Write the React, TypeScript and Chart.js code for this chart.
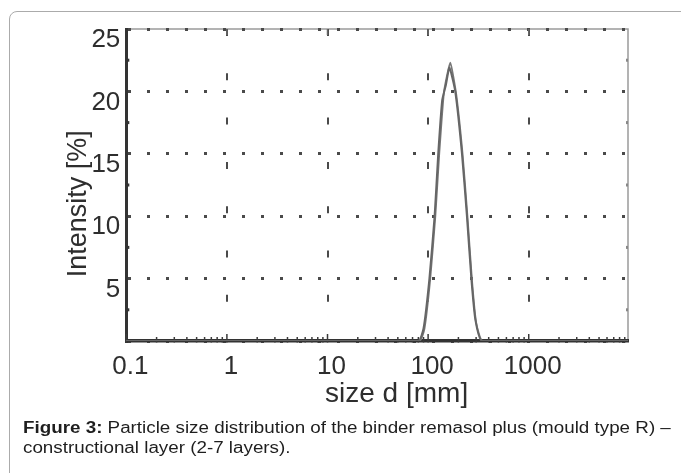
import React, { useEffect, useRef } from "react";
import { Chart, registerables } from "chart.js";

Chart.register(...registerables);

// ---- data ----
const xTickValues = [0.1, 1, 10, 100, 1000];
const xTickLabels = ["0.1", "1", "10", "100", "1000"];
const yTickValues = [0, 5, 10, 15, 20, 25];
const yMinorMarks = [2.5, 7.5, 12.5, 17.5, 22.5];

// outer edge of the (doubled) distribution curve
const sizeA = [0.1, 80, 90, 103, 116, 126, 138, 150, 163, 186, 217, 243, 269, 295, 344, 9700];
const intensityA = [0, 0, 1.0, 5, 10, 15, 19.3, 20.5, 21.9, 20, 15, 10, 5, 1.7, 0, 0];
// second trace of the doubled line
const sizeB = [0.1, 82, 92, 105, 118, 129, 144, 166, 190, 220, 246, 272, 300, 348, 9700];
const intensityB = [0, 0, 1.0, 5, 10, 15, 20, 22.3, 19.8, 15, 10, 5, 1.5, 0, 0];

const X_MIN = 0.1;
const X_MAX = 9700;
const Y_MIN = 0;
const Y_MAX = 25;

const FONT = "'Liberation Sans', Arial, Helvetica, sans-serif";

const decorPlugin = {
  id: "decor",
  beforeDraw(chart: any) {
    const { ctx, chartArea } = chart;
    ctx.save();
    ctx.strokeStyle = "#9a9a9a";
    ctx.lineWidth = 1.5;
    ctx.beginPath();
    ctx.moveTo(chartArea.left, chartArea.top);
    ctx.lineTo(chartArea.right, chartArea.top);
    ctx.lineTo(chartArea.right, chartArea.bottom);
    ctx.stroke();
    ctx.restore();
  },
  beforeDatasetsDraw(chart: any) {
    const { ctx, chartArea, scales } = chart;
    const xs = scales.x;
    const ys = scales.y;
    ctx.save();
    ctx.strokeStyle = "#3a3a3a";
    ctx.lineWidth = 1.5;
    // bottom log ticks (inside)
    for (const d of xTickValues) {
      for (let k = 1; k <= 9; k++) {
        const v = d * k;
        if (v < X_MIN || v > X_MAX) continue;
        const px = xs.getPixelForValue(v);
        const len = k === 1 ? 7 : 4;
        ctx.beginPath();
        ctx.moveTo(px, chartArea.bottom + 1.5);
        ctx.lineTo(px, chartArea.bottom - len);
        ctx.stroke();
      }
    }
    // top decade ticks
    ctx.strokeStyle = "#666";
    for (const d of xTickValues) {
      if (d <= X_MIN) continue;
      const px = xs.getPixelForValue(d);
      ctx.beginPath();
      ctx.moveTo(px, chartArea.top);
      ctx.lineTo(px, chartArea.top + 6);
      ctx.stroke();
    }
    // left axis small marks
    ctx.fillStyle = "#333";
    for (const v of yMinorMarks) {
      const py = ys.getPixelForValue(v);
      ctx.fillRect(chartArea.left, py - 1.5, 3, 3);
    }
    // right axis small marks
    ctx.fillStyle = "#888";
    for (const v of yMinorMarks) {
      const py = ys.getPixelForValue(v);
      ctx.fillRect(chartArea.right - 2, py - 1.5, 2, 3);
    }
    ctx.restore();
  },
};

export default function App() {
  const canvasRef = useRef<HTMLCanvasElement | null>(null);

  useEffect(() => {
    const canvas = canvasRef.current;
    if (!canvas) return;
    const chart = new Chart(canvas, {
      type: "line",
      data: {
        datasets: [
          {
            label: "trace A",
            data: sizeA.map((x, i) => ({ x, y: intensityA[i] })),
            borderColor: "#666",
            borderWidth: 2,
            pointRadius: 0,
            tension: 0.15,
            fill: false,
          },
          {
            label: "trace B",
            data: sizeB.map((x, i) => ({ x, y: intensityB[i] })),
            borderColor: "#777",
            borderWidth: 1.8,
            pointRadius: 0,
            tension: 0.15,
            fill: false,
          },
        ],
      },
      options: {
        animation: false,
        responsive: false,
        devicePixelRatio: 1,
        layout: { padding: { left: 0, right: 53, top: 29, bottom: 0 } },
        plugins: {
          legend: { display: false },
          tooltip: { enabled: false },
        },
        scales: {
          x: {
            type: "logarithmic",
            position: "bottom",
            min: X_MIN,
            max: X_MAX,
            afterBuildTicks: (s: any) => {
              s.ticks = xTickValues.map((v) => ({ value: v }));
            },
            afterFit: (s: any) => {
              s.height = 79;
            },
            ticks: {
              autoSkip: false,
              maxRotation: 0,
              padding: 10,
              labelOffset: 4,
              color: "#2e2e2e",
              font: { family: FONT, size: 26 },
              callback: (_v: any, i: number) => xTickLabels[i],
            },
            grid: {
              drawTicks: false,
              lineWidth: 2,
              color: (c: any) =>
                c.tick && c.tick.value > X_MIN ? "#4a4a4a" : "rgba(0,0,0,0)",
            },
            border: { display: true, color: "#333", width: 3.5, dash: [7, 37.3] },
            title: {
              display: true,
              text: "     size d [mm]",
              color: "#2e2e2e",
              font: { family: FONT, size: 28 },
              padding: { top: 0, bottom: 9 },
            },
          },
          y: {
            type: "linear",
            position: "left",
            min: Y_MIN,
            max: Y_MAX,
            afterBuildTicks: (s: any) => {
              s.ticks = yTickValues.map((v) => ({ value: v }));
            },
            afterFit: (s: any) => {
              s.width = 126.3;
            },
            ticks: {
              padding: 6,
              labelOffset: 11,
              color: "#2e2e2e",
              font: { family: FONT, size: 26 },
              callback: (v: any) => (v === 0 ? "" : String(v)),
            },
            grid: {
              drawTicks: false,
              lineWidth: 3,
              color: "#4a4a4a",
            },
            border: { display: true, color: "#333", width: 3, dash: [3, 16] },
            title: {
              display: true,
              text: "Intensity [%]     ",
              color: "#2e2e2e",
              font: { family: FONT, size: 27 },
              padding: { top: 62, bottom: 0 },
            },
          },
        },
      },
      plugins: [decorPlugin],
    } as any);
    return () => chart.destroy();
  }, []);

  return (
    <div style={{ position: "absolute", left: 0, top: 0, width: 681, height: 473, overflow: "hidden", background: "#fff" }}>
      <div
        style={{
          position: "absolute",
          left: 9,
          top: 11,
          width: 720,
          height: 520,
          border: "1px solid #ababab",
          borderTopLeftRadius: 8,
          boxSizing: "border-box",
        }}
      />
      <canvas
        ref={canvasRef}
        width={681}
        height={420}
        style={{ position: "absolute", left: 0, top: 0, width: 681, height: 420, display: "block" }}
      />
      <div
        style={{
          position: "absolute",
          left: 23,
          top: 418,
          fontFamily: FONT,
          fontSize: 16,
          lineHeight: "20px",
          color: "#1e1e1e",
          whiteSpace: "nowrap",
          transform: "scaleX(1.175)",
          transformOrigin: "0 0",
        }}
      >
        <div>
          <b>Figure 3:</b> Particle size distribution of the binder remasol plus (mould type R) –
        </div>
        <div>constructional layer (2-7 layers).</div>
      </div>
    </div>
  );
}
